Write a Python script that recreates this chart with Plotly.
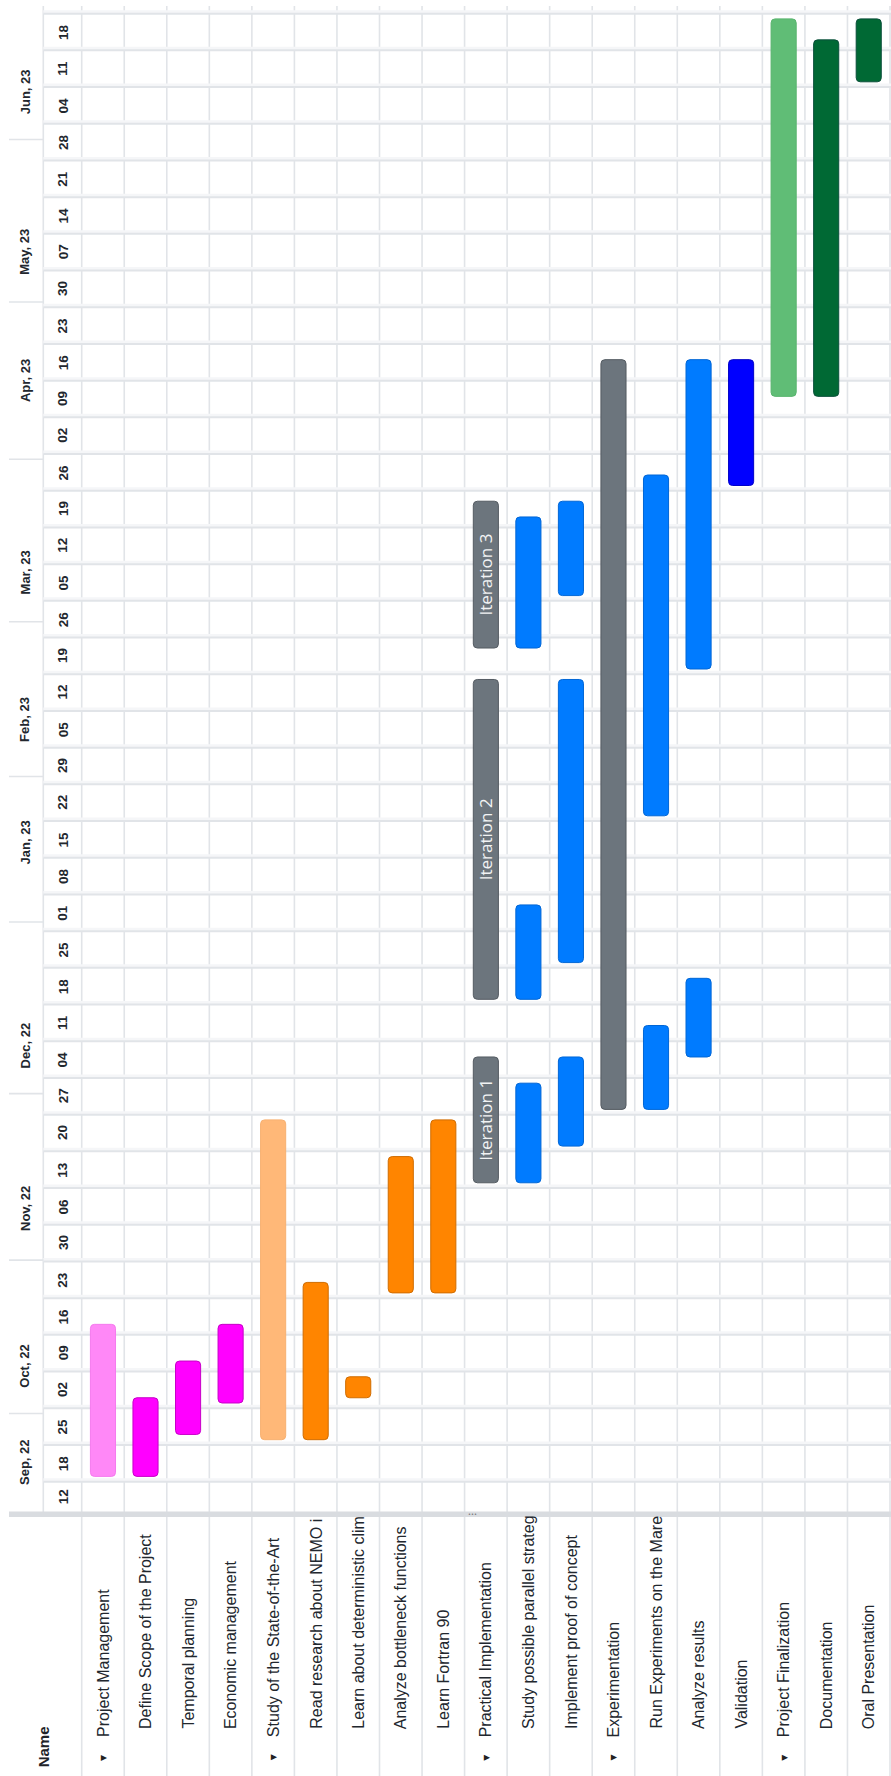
import plotly.graph_objects as go
import pandas as pd

# ---------------- data ----------------
tasks = ["Project Management", "Define Scope of the Project", "Temporal planning",
         "Economic management", "Study of the State-of-the-Art", "Read research about NEMO i",
         "Learn about deterministic clim", "Analyze bottleneck functions", "Learn Fortran 90",
         "Practical Implementation", "Study possible parallel strateg", "Implement proof of concept",
         "Experimentation", "Run Experiments on the Mare", "Analyze results", "Validation",
         "Project Finalization", "Documentation", "Oral Presentation"]
parent_tasks = ["Project Management", "Study of the State-of-the-Art", "Practical Implementation",
                "Experimentation", "Project Finalization"]

bar_task = ["Project Management", "Define Scope of the Project", "Temporal planning",
            "Economic management", "Study of the State-of-the-Art", "Read research about NEMO i",
            "Learn about deterministic clim", "Analyze bottleneck functions", "Learn Fortran 90",
            "Practical Implementation", "Practical Implementation", "Practical Implementation",
            "Study possible parallel strateg", "Study possible parallel strateg", "Study possible parallel strateg",
            "Implement proof of concept", "Implement proof of concept", "Implement proof of concept",
            "Experimentation",
            "Run Experiments on the Mare", "Run Experiments on the Mare",
            "Analyze results", "Analyze results",
            "Validation", "Project Finalization", "Documentation", "Oral Presentation"]
bar_start = ["2022-09-19", "2022-09-19", "2022-09-27", "2022-10-03", "2022-09-26", "2022-09-26",
             "2022-10-04", "2022-10-24", "2022-10-24",
             "2022-11-14", "2022-12-19", "2023-02-24",
             "2022-11-14", "2022-12-19", "2023-02-24",
             "2022-11-21", "2022-12-26", "2023-03-06",
             "2022-11-28",
             "2022-11-28", "2023-01-23",
             "2022-12-08", "2023-02-20",
             "2023-03-27", "2023-04-13", "2023-04-13", "2023-06-12"]
bar_end = ["2022-10-18", "2022-10-04", "2022-10-11", "2022-10-18", "2022-11-26", "2022-10-26",
           "2022-10-08", "2022-11-19", "2022-11-26",
           "2022-12-08", "2023-02-18", "2023-03-24",
           "2022-12-03", "2023-01-06", "2023-03-21",
           "2022-12-08", "2023-02-18", "2023-03-24",
           "2023-04-20",
           "2022-12-14", "2023-03-29",
           "2022-12-23", "2023-04-20",
           "2023-04-20", "2023-06-24", "2023-06-20", "2023-06-24"]
bar_color = ["#ff88f7", "#ff00ff", "#ff00ff", "#ff00ff", "#ffb878", "#ff8500",
             "#ff8500", "#ff8500", "#ff8500",
             "#6c757d", "#6c757d", "#6c757d",
             "#007bff", "#007bff", "#007bff",
             "#007bff", "#007bff", "#007bff",
             "#6c757d",
             "#007bff", "#007bff",
             "#007bff", "#007bff",
             "#0000ff", "#60bd76", "#006934", "#006934"]
bar_border = ["#f57aee", "#c700c7", "#c700c7", "#c700c7", "#f7b070", "#d06c00",
              "#d06c00", "#d06c00", "#d06c00",
              "#545b62", "#545b62", "#545b62",
              "#0066d6", "#0066d6", "#0066d6",
              "#0066d6", "#0066d6", "#0066d6",
              "#545b62",
              "#0066d6", "#0066d6",
              "#0066d6", "#0066d6",
              "#0000c8", "#58b46d", "#0a4f3a", "#0a4f3a"]
bar_text = ["", "", "", "", "", "", "", "", "",
            "Iteration 1", "Iteration 2", "Iteration 3",
            "", "", "", "", "", "", "", "", "", "", "", "", "", "", ""]

month_labels = ["Sep, 22", "Oct, 22", "Nov, 22", "Dec, 22", "Jan, 23", "Feb, 23",
                "Mar, 23", "Apr, 23", "May, 23", "Jun, 23"]
month_label_dates = ["2022-09-21 18:00", "2022-10-09 22:00", "2022-11-09", "2022-12-10 05:00",
                     "2023-01-17 22:00", "2023-02-10 07:00", "2023-03-10 10:00", "2023-04-15 22:00",
                     "2023-05-10 14:00", "2023-06-10"]
month_bounds = ["2022-10-01", "2022-10-30 06:00", "2022-12-01", "2023-01-02 18:00", "2023-01-30 12:00",
                "2023-03-01", "2023-04-01", "2023-05-01", "2023-06-01"]
day_labels = ["12", "18", "25", "02", "09", "16", "23", "30", "06", "13", "20", "27", "04",
              "11", "18", "25", "01", "08", "15", "22", "29", "05", "12", "19", "26", "05",
              "12", "19", "26", "02", "09", "16", "23", "30", "07", "14", "21", "28", "04",
              "11", "18"]
axis_start = "2022-09-12 05:00"
axis_end = "2023-06-26 11:00"
first_week = "2022-09-18"

# ---------------- geometry helpers ----------------
W, H = 891, 1776
TOP, BOTTOM_PX = 6, 1512
PLOT_H = BOTTOM_PX - TOP
GRID_X0 = 81.7
COL_W = (W - 1 - GRID_X0) / len(tasks)


def xv(px):
    return -0.5 + (px - GRID_X0) / COL_W


def py(px):
    return (BOTTOM_PX - px) / PLOT_H


x_range = [xv(0), xv(W)]
task_idx = {t: i for i, t in enumerate(tasks)}

starts = pd.to_datetime(bar_start)
ends = pd.to_datetime(bar_end)
durations = [(e - s).total_seconds() * 1000 for s, e in zip(starts, ends)]
mids = [s + (e - s) / 2 for s, e in zip(starts, ends)]

fig = go.Figure()
fig.add_trace(go.Bar(
    x=[task_idx[t] for t in bar_task],
    y=durations,
    base=bar_start,
    width=0.59,
    marker=dict(color=bar_color, line=dict(color=bar_border, width=1), cornerradius=4),
    hoverinfo="skip",
    showlegend=False,
))

GRID = "#e1e4e8"
BAND = "#f5f6f8"
shapes = []
week_bounds = pd.date_range(first_week, axis_end, freq="7D")
for d in week_bounds:
    shapes.append(dict(type="rect", xref="x", yref="y", x0=xv(43.3), x1=x_range[1],
                       y0=d, y1=d + pd.Timedelta(hours=16), line=dict(width=0),
                       fillcolor=BAND, layer="below"))
for d in week_bounds:
    shapes.append(dict(type="line", xref="x", yref="y", x0=xv(43.3), x1=x_range[1],
                       y0=d, y1=d, line=dict(color=GRID, width=2), layer="below"))
for i in range(len(tasks) + 1):
    shapes.append(dict(type="line", xref="x", yref="paper", x0=i - 0.5, x1=i - 0.5,
                       y0=py(H), y1=1, line=dict(color=GRID, width=1.6), layer="below"))
shapes.append(dict(type="line", xref="x", yref="paper", x0=xv(43.3), x1=xv(43.3),
                   y0=0, y1=1, line=dict(color=GRID, width=1.6), layer="below"))
for d in month_bounds:
    shapes.append(dict(type="line", xref="x", yref="y", x0=xv(9), x1=xv(43.3),
                       y0=d, y1=d, line=dict(color=GRID, width=1.6), layer="below"))
shapes.append(dict(type="rect", xref="x", yref="paper", x0=xv(9), x1=x_range[1],
                   y0=py(1517), y1=py(1511.5), line=dict(width=0), fillcolor="#d9dce0",
                   layer="above"))

annotations = []
TXT = "#22272e"
for t, m, lab in zip(bar_task, mids, bar_text):
    if lab:
        annotations.append(dict(x=task_idx[t], y=m, xref="x", yref="y", text=lab,
                                textangle=-90, showarrow=False, xanchor="center", yanchor="middle",
                                font=dict(family="Open Sans", size=17, color="#f2f3f4")))
for lab, d in zip(month_labels, month_label_dates):
    annotations.append(dict(x=xv(25), y=d, xref="x", yref="y", text="<b>" + lab + "</b>",
                            textangle=-90, showarrow=False, xanchor="center", yanchor="middle",
                            font=dict(family="Liberation Sans", size=13, color=TXT)))
label_dates = [pd.Timestamp(axis_start).normalize() + (pd.Timestamp(first_week) - pd.Timestamp(axis_start).normalize()) / 2]
label_dates += [d + pd.Timedelta(hours=84) for d in week_bounds[:-1]]
for lab, d in zip(day_labels, label_dates):
    annotations.append(dict(x=xv(63), y=d, xref="x", yref="y", text="<b>" + lab + "</b>",
                            textangle=-90, showarrow=False, xanchor="center", yanchor="middle",
                            font=dict(family="Liberation Sans", size=13.5, color=TXT)))
annotations.append(dict(x=xv(43.3), y=py(1747), xref="x", yref="paper", text="<b>Name</b>",
                        textangle=-90, showarrow=False, xanchor="center", yanchor="middle",
                        font=dict(family="Liberation Sans", size=15, color="#1f2329")))
for t in tasks:
    i = task_idx[t]
    parent = t in parent_tasks
    annotations.append(dict(x=i, y=py(1739 if parent else 1731), xref="x", yref="paper", text=t,
                            textangle=-90, showarrow=False, xanchor="center", yanchor="bottom",
                            font=dict(family="Liberation Sans", size=16, color=TXT)))
    if parent:
        annotations.append(dict(x=i, y=py(1757), xref="x", yref="paper", text="▼",
                                textangle=-90, showarrow=False, xanchor="center", yanchor="middle",
                                font=dict(family="DejaVu Sans", size=8, color="#222")))
annotations.append(dict(x=xv(466), y=py(1514.2), xref="x", yref="paper", text="•••",
                        showarrow=False, xanchor="left", yanchor="middle",
                        font=dict(family="DejaVu Sans", size=5, color="#666")))

fig.update_layout(
    width=W, height=H,
    margin=dict(l=0, r=0, t=TOP, b=H - BOTTOM_PX),
    paper_bgcolor="white", plot_bgcolor="white",
    barmode="overlay",
    showlegend=False,
    xaxis=dict(range=x_range, visible=False, fixedrange=True),
    yaxis=dict(type="date", range=[axis_start, axis_end], visible=False, fixedrange=True),
    shapes=shapes,
    annotations=annotations,
)

fig.write_html("out.html")
